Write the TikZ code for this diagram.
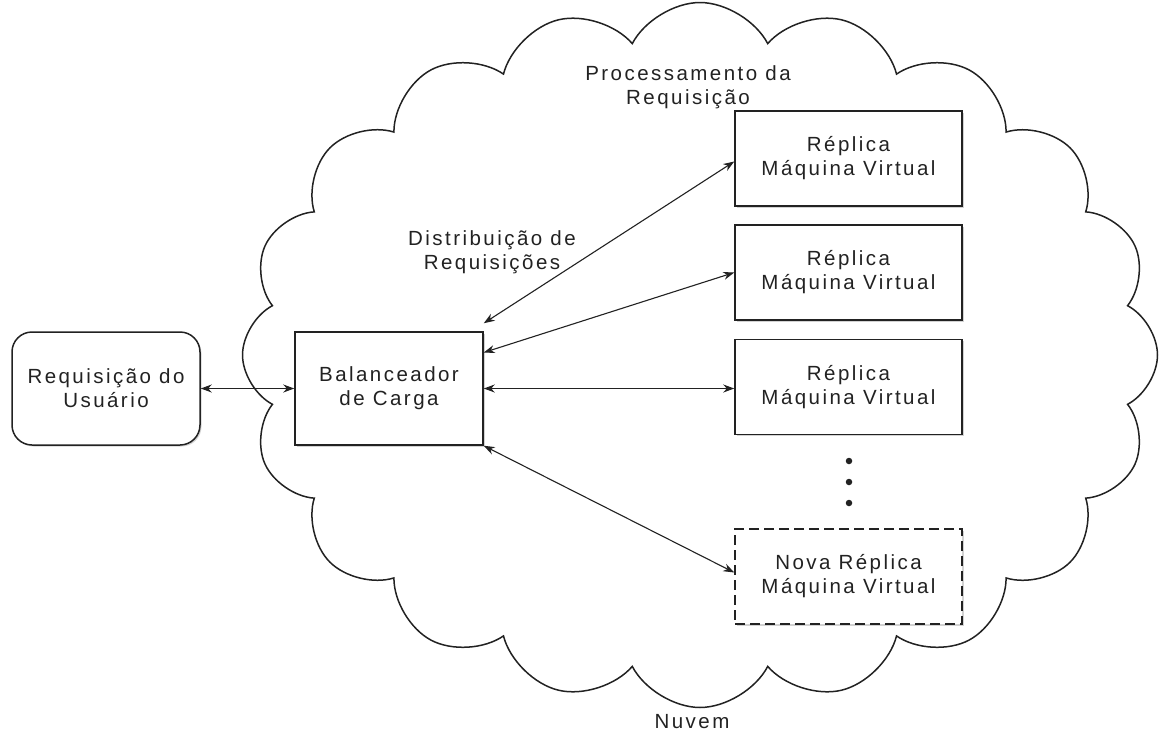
\documentclass[tikz,border=0pt]{standalone}
\usepackage{fontspec}
\setmainfont{Liberation Sans}[LetterSpace=12]
\usetikzlibrary{shapes.symbols,arrows.meta,shadows}
\definecolor{ink}{HTML}{222222}
\begin{document}
\begin{tikzpicture}[x=1pt,y=-1pt,
  lbl/.style={align=center, text=ink, font=\fontsize{20.5}{24}\selectfont},
  boxshadow/.style={drop shadow={shadow xshift=1.5pt, shadow yshift=-1.5pt, opacity=0.35}},
  vmbox/.style={lbl, draw=ink, line width=1.5pt, fill=white, minimum width=227pt, minimum height=95pt, boxshadow},
  sidebox/.style={lbl, draw=ink, line width=1.5pt, fill=white, minimum width=188pt, minimum height=113pt, boxshadow},
  link/.style={draw=ink, line width=1.1pt, {Stealth[length=11pt,width=8pt]}-{Stealth[length=11pt,width=8pt]}},
  dot/.style={circle, fill=ink, inner sep=0pt, minimum size=6.5pt}
]
\useasboundingbox (0,0) rectangle (1159,737);

% the cloud that holds the service
\node[cloud, draw=ink, line width=1.5pt, fill=white, cloud puffs=20, cloud puff arc=125,
      cloud ignores aspect, minimum width=915pt, minimum height=705pt] (cloud) at (700,355) {};
\node[lbl] (nuvem) at (692,722) {Nuvem};

% labels inside the cloud
\node[lbl] (proc) at (688,87) {Processamento da\\Requisição};
\node[lbl] (dist) at (492,252) {Distribuição de\\Requisições};

% user and load balancer
\node[sidebox, rounded corners=20pt] (user) at (106,388.5) {Requisição do\\Usuário};
\node[sidebox] (lb) at (389,388.5) {Balanceador\\de Carga};

% virtual machine replicas
\node[vmbox] (r1) at (848.5,158.5) {Réplica\\Máquina Virtual};
\node[vmbox] (r2) at (848.5,272.5) {Réplica\\Máquina Virtual};
\node[vmbox] (r3) at (848.5,387) {Réplica\\Máquina Virtual};
\node[vmbox, dashed, dash pattern=on 10pt off 5pt] (nr) at (848.5,576.5) {Nova Réplica\\Máquina Virtual};

% vertical ellipsis between the replicas
\node[dot] (d1) at (849,461) {};
\node[dot] (d2) at (849,482) {};
\node[dot] (d3) at (849,503) {};

% connections
\draw[link] (user.east) -- (lb.west);
\draw[link] ([yshift=8pt]lb.north east) -- ([yshift=-3pt]r1.west);
\draw[link] ([yshift=36pt]lb.east) -- (r2.west);
\draw[link] (lb.east) -- (lb.east -| r3.west);
\draw[link] (lb.south east) -- ([yshift=4pt]nr.west);
\end{tikzpicture}
\end{document}
